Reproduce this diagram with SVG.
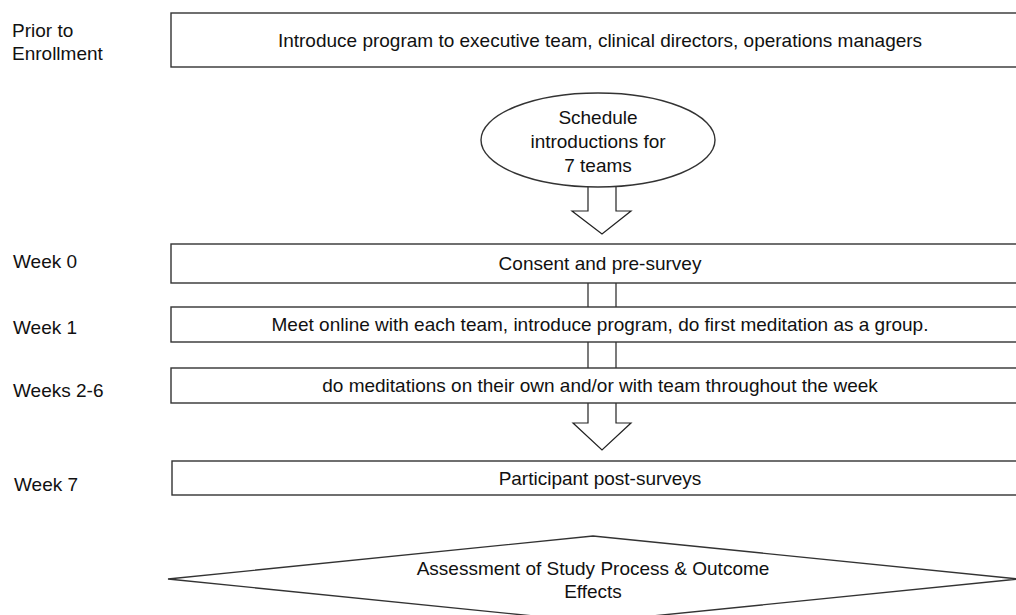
<svg xmlns="http://www.w3.org/2000/svg" width="1016" height="615" viewBox="0 0 1016 615">
<style>
  .box{fill:#fff;stroke:#333;stroke-width:1.4}
  .conn{fill:#fff;stroke:#222;stroke-width:1.2}
  .t{font-family:"Liberation Sans",Arial,sans-serif;font-size:19px;fill:#111;text-anchor:middle}
  .lbl{font-family:"Liberation Sans",Arial,sans-serif;font-size:19px;fill:#111}
</style>
<rect width="1016" height="615" fill="#fff"/>
<g id="labels">
  <text class="lbl" x="12" y="37">Prior to</text>
  <text class="lbl" x="12" y="60">Enrollment</text>
  <text class="lbl" x="13" y="268">Week 0</text>
  <text class="lbl" x="13" y="334">Week 1</text>
  <text class="lbl" x="13" y="397">Weeks 2-6</text>
  <text class="lbl" x="14" y="491">Week 7</text>
</g>
<g id="connectors">
  <polyline class="conn" points="588,187 588,211 572,211 602,234 631,211 616,211 616,187"/>
  <line class="conn" x1="588" y1="283" x2="588" y2="307"/>
  <line class="conn" x1="616" y1="283" x2="616" y2="307"/>
  <line class="conn" x1="588" y1="342" x2="588" y2="368"/>
  <line class="conn" x1="616" y1="342" x2="616" y2="368"/>
  <polyline class="conn" points="588,403 588,423 573,423 602,450 631,423 616,423 616,403"/>
</g>
<g id="intro">
  <rect class="box" x="171" y="13" width="858" height="54"/>
  <text class="t" x="600" y="47">Introduce program to executive team, clinical directors, operations managers</text>
</g>
<g id="schedule">
  <ellipse class="box" cx="598" cy="140" rx="117" ry="47"/>
  <text class="t" x="598" y="124">Schedule</text>
  <text class="t" x="598" y="148">introductions for</text>
  <text class="t" x="598" y="172">7 teams</text>
</g>
<g id="consent">
  <rect class="box" x="171" y="244" width="858" height="39"/>
  <text class="t" x="600" y="270">Consent and pre-survey</text>
</g>
<g id="meet">
  <rect class="box" x="171" y="307" width="858" height="35"/>
  <text class="t" x="600" y="331">Meet online with each team, introduce program, do first meditation as a group.</text>
</g>
<g id="meditations">
  <rect class="box" x="171" y="368" width="858" height="35"/>
  <text class="t" x="600" y="392">do meditations on their own and/or with team throughout the week</text>
</g>
<g id="post">
  <rect class="box" x="172" y="461" width="857" height="34"/>
  <text class="t" x="600" y="485">Participant post-surveys</text>
</g>
<g id="assessment">
  <polygon class="box" points="168,579 593,536 1018,579 593,622"/>
  <text class="t" x="593" y="575">Assessment of Study Process &amp; Outcome</text>
  <text class="t" x="593" y="598">Effects</text>
</g>
</svg>
